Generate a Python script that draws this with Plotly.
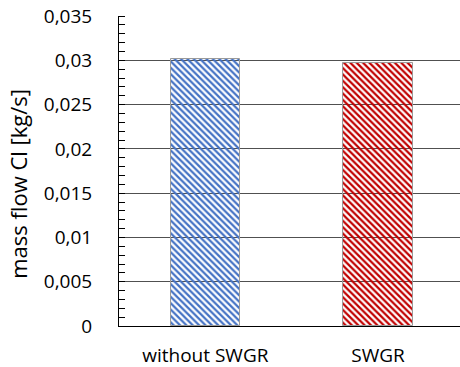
import plotly.graph_objects as go

# Chlorine mass flow for both configurations
categories = ["without SWGR", "SWGR"]
mass_flow = [0.0302, 0.0297]
bar_colors = ["#4472C4", "#C00000"]
y_ticks = [0, 0.005, 0.01, 0.015, 0.02, 0.025, 0.03, 0.035]
y_tick_labels = ["0", "0,005", "0,01", "0,015", "0,02", "0,025", "0,03", "0,035"]

fig = go.Figure()
fig.add_trace(go.Bar(
    x=[0, 1],
    y=mass_flow,
    width=0.4,
    marker=dict(
        color=bar_colors,
        line=dict(color="#9a9a9a", width=1),
        pattern=dict(shape="\\", size=4.5, solidity=0.5,
                     fgcolor=bar_colors, bgcolor="white", fillmode="replace"),
    ),
    showlegend=False,
))

font = "Open Sans, DejaVu Sans, sans-serif"

fig.update_layout(
    width=460, height=367,
    margin=dict(l=119, r=0, t=16, b=41, autoexpand=False),
    paper_bgcolor="white", plot_bgcolor="white",
    font=dict(family=font, color="black"),
    bargap=0,
)
fig.update_xaxes(
    range=[-0.5, 1.475],
    tickvals=[0, 1], ticktext=categories,
    tickfont=dict(size=19),
    showgrid=False, zeroline=False,
    showline=True, linecolor="black", linewidth=1,
    ticks="", ticklabelstandoff=12, automargin=False,
)
fig.update_yaxes(
    range=[0, 0.035],
    tickvals=y_ticks, ticktext=y_tick_labels,
    tickfont=dict(size=19),
    showgrid=True, gridcolor="#505050", gridwidth=1,
    zeroline=False,
    showline=True, linecolor="black", linewidth=1,
    ticks="", ticklabelstandoff=22, automargin=False,
    minor=dict(dtick=0.001, ticks="inside", ticklen=6, tickcolor="black", showgrid=False),
)

# Vertical axis title placed in paper coordinates
fig.add_annotation(
    text="mass flow Cl [kg/s]", textangle=-90,
    xref="paper", yref="paper", x=-0.295, y=0.46,
    xanchor="center", yanchor="middle", showarrow=False,
    font=dict(size=22),
)

fig.write_html("out.html")
